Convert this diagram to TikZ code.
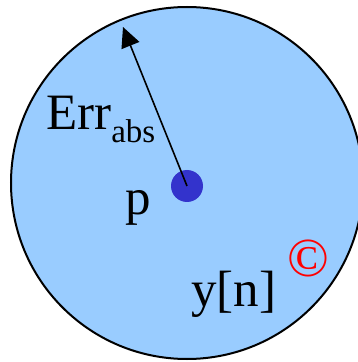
\documentclass[tikz,border=0pt]{standalone}
\usepackage{fontspec}
\setmainfont{Liberation Serif}
\usetikzlibrary{arrows.meta}
\definecolor{disk}{HTML}{99CCFF}
\definecolor{dotc}{HTML}{3333CC}
\tikzset{
  lbl/.style={inner sep=0pt, font=\fontsize{51}{58}\selectfont},
}
\begin{document}
\begin{tikzpicture}[x=1pt,y=1pt]
\useasboundingbox (0,0) rectangle (358,362);
\draw[line width=2pt, fill=disk] (187,179) circle (176);
\fill[dotc] (187,176) circle (16);
\node[circle, inner sep=0pt, minimum size=32pt] (dot) at (187,176) {};
\coordinate (tip) at (123,335);
\draw[line width=1.6pt, -{Triangle[length=20pt,width=19pt]}] (dot.center) -- (tip);
\node[lbl, anchor=base west] (err) at (46,232) {Err\raisebox{-13pt}{\fontsize{33}{33}\selectfont abs}};
\node[lbl, anchor=base] (plab) at (138,147) {p};
\node[lbl, anchor=base west] (y) at (191,56) {y[n]};
\node[inner sep=0pt, text=red, font=\fontsize{55}{55}\selectfont] (c) at (308,104) {©};
\end{tikzpicture}
\end{document}
